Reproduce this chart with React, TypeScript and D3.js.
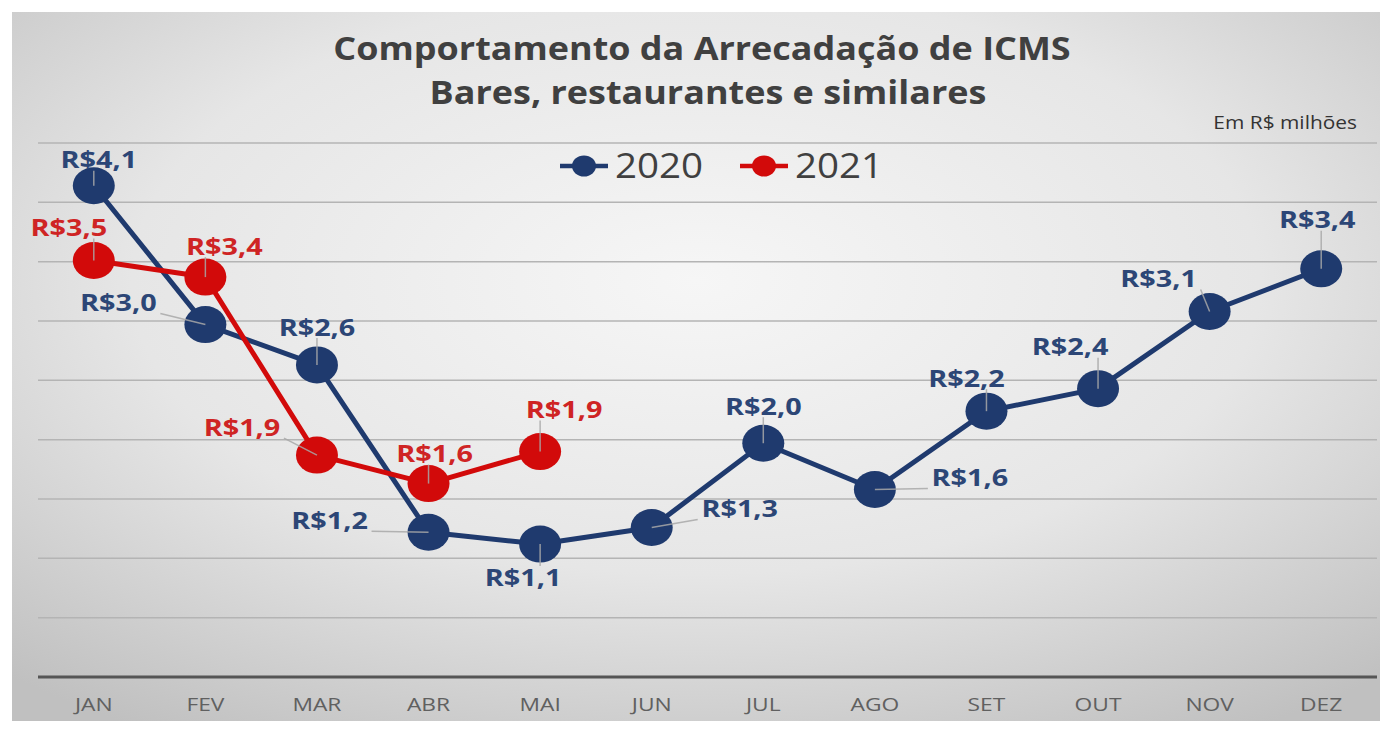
import React, { useEffect, useRef } from 'react';
import * as d3 from 'd3';

// dados (R$ milhões)
const months = ['JAN', 'FEV', 'MAR', 'ABR', 'MAI', 'JUN', 'JUL', 'AGO', 'SET', 'OUT', 'NOV', 'DEZ'];
const values2020 = [4.14, 2.97, 2.63, 1.22, 1.12, 1.26, 1.97, 1.58, 2.24, 2.43, 3.08, 3.44];
const values2021 = [3.51, 3.37, 1.87, 1.63, 1.9];
const seriesNames = ['2020', '2021'];
const yTicks = [0.5, 1, 1.5, 2, 2.5, 3, 3.5, 4, 4.5];

// posição dos rótulos relativa ao ponto
const labelOffsets2020 = [[5, -26], [-87, -22], [0, -38], [-99, -12], [-17, 33], [88, -19], [0, -37], [95, -12], [-20, -33], [-28, -42], [-51, -33], [-4, -49]];
const labelOffsets2021 = [[-25, -33], [19, -31], [-75, -28], [6, -30], [24, -42]];

const W = 1388, H = 729;

export default function App() {
    const ref = useRef<SVGSVGElement | null>(null);

    useEffect(() => {
        if (!ref.current) return;
        const svg = d3.select(ref.current);
        svg.selectAll('*').remove();

        const defs = svg.append('defs');
        const grad = defs.append('radialGradient')
            .attr('id', 'bg')
            .attr('cx', '50%').attr('cy', '38%').attr('r', '75%');
        grad.append('stop').attr('offset', '0%').attr('stop-color', '#f6f6f6');
        grad.append('stop').attr('offset', '55%').attr('stop-color', '#e6e6e6');
        grad.append('stop').attr('offset', '100%').attr('stop-color', '#c0c0c0');

        svg.append('rect').attr('width', W).attr('height', H).attr('fill', '#fff');
        svg.append('rect')
            .attr('x', 12).attr('y', 12)
            .attr('width', 1368).attr('height', 709)
            .attr('fill', 'url(#bg)');

        const x = d3.scaleBand().domain(months).range([38, 1377]);
        const cx = (m: string) => (x(m) as number) + x.bandwidth() / 2;
        const y = d3.scaleLinear().domain([0, 4.5]).range([677, 143]);

        // grade
        svg.append('g')
            .selectAll('line')
            .data(yTicks)
            .enter().append('line')
            .attr('x1', 38).attr('x2', 1377)
            .attr('y1', d => y(d)).attr('y2', d => y(d))
            .attr('stroke', '#b4b4b4')
            .attr('stroke-width', 1.5);

        svg.append('line')
            .attr('x1', 38).attr('x2', 1377)
            .attr('y1', y(0)).attr('y2', y(0))
            .attr('stroke', '#555')
            .attr('stroke-width', 3);

        // meses
        svg.append('g')
            .selectAll('text')
            .data(months)
            .enter().append('text')
            .attr('transform', d => `translate(${cx(d)},${704}) scale(1.2,1)`)
            .attr('text-anchor', 'middle')
            .attr('dy', '0.35em')
            .style('font-family', '"Open Sans", sans-serif')
            .style('font-size', '19px')
            .style('fill', '#606060')
            .text(d => d);

        // títulos
        const title = svg.append('g')
            .style('font-family', '"Open Sans", sans-serif')
            .style('font-weight', 'bold')
            .style('fill', '#404040');
        title.append('text')
            .attr('transform', 'translate(702,60) scale(1.09,1)')
            .attr('text-anchor', 'middle')
            .style('font-size', '33px')
            .text('Comportamento da Arrecadação de ICMS');
        title.append('text')
            .attr('transform', 'translate(708,104) scale(1.09,1)')
            .attr('text-anchor', 'middle')
            .style('font-size', '33px')
            .text('Bares, restaurantes e similares');

        svg.append('text')
            .attr('transform', 'translate(1357,129) scale(1.1,1)')
            .attr('text-anchor', 'end')
            .style('font-family', '"Open Sans", sans-serif')
            .style('font-size', '19px')
            .style('fill', '#333')
            .text('Em R$ milhões');

        const fmt = (v: number) => `R$${v.toFixed(1).replace('.', ',')}`;

        const series = [
            { name: seriesNames[0], values: values2020, offsets: labelOffsets2020, color: '#1f3a6e', text: '#2c4676' },
            { name: seriesNames[1], values: values2021, offsets: labelOffsets2021, color: '#d20a0a', text: '#cf2424' },
        ];

        const line = d3.line<number>()
            .x((d, i) => cx(months[i]))
            .y(d => y(d));

        // legenda
        series.forEach((s, i) => {
            const lx = 560 + i * 180;
            const g = svg.append('g');
            g.append('line')
                .attr('x1', lx).attr('x2', lx + 48)
                .attr('y1', 166).attr('y2', 166)
                .attr('stroke', s.color).attr('stroke-width', 4.5);
            g.append('ellipse')
                .attr('cx', lx + 24).attr('cy', 166)
                .attr('rx', 12).attr('ry', 10.5)
                .attr('fill', s.color);
            g.append('text')
                .attr('transform', `translate(${lx + 55},166) scale(1.1,1)`)
                .attr('dy', '0.35em')
                .style('font-family', '"Open Sans", sans-serif')
                .style('font-size', '35px')
                .style('fill', '#404040')
                .text(s.name);
        });

        series.forEach(s => {
            svg.append('path')
                .datum(s.values)
                .attr('d', line)
                .attr('fill', 'none')
                .attr('stroke', s.color)
                .attr('stroke-width', 5)
                .attr('stroke-linejoin', 'round');
        });

        series.forEach(s => {
            const pts = s.values.map((v, i) => ({ v, px: cx(months[i]), py: y(v), o: s.offsets[i] }));

            svg.append('g')
                .selectAll('ellipse')
                .data(pts)
                .enter().append('ellipse')
                .attr('cx', d => d.px).attr('cy', d => d.py)
                .attr('rx', 21).attr('ry', 18.5)
                .attr('fill', s.color);

            // linhas de chamada
            svg.append('g')
                .selectAll('line')
                .data(pts)
                .enter().append('line')
                .attr('x1', d => {
                    const lx = d.px + d.o[0];
                    return Math.max(lx - 40, Math.min(lx + 40, d.px)) + (d.o[0] > 40 ? -2 : d.o[0] < -40 ? 2 : 0);
                })
                .attr('y1', d => {
                    const ly = d.py + d.o[1];
                    return Math.max(ly - 11, Math.min(ly + 11, d.py));
                })
                .attr('x2', d => d.px)
                .attr('y2', d => d.py)
                .attr('stroke', '#a8a8a8')
                .attr('stroke-opacity', 0.85)
                .attr('stroke-width', 1.5);

            svg.append('g')
                .selectAll('text')
                .data(pts)
                .enter().append('text')
                .attr('transform', d => `translate(${d.px + d.o[0]},${d.py + d.o[1]}) scale(1.2,1)`)
                .attr('text-anchor', 'middle')
                .attr('dy', '0.36em')
                .style('font-family', '"Open Sans", sans-serif')
                .style('font-weight', 'bold')
                .style('font-size', '24px')
                .style('fill', s.text)
                .text(d => fmt(d.v));
        });
    }, []);

    return (
        <div style={{ position: 'absolute', left: 0, top: 0, width: W, height: H }}>
            <svg ref={ref} width={W} height={H} style={{ display: 'block' }} />
        </div>
    );
}
